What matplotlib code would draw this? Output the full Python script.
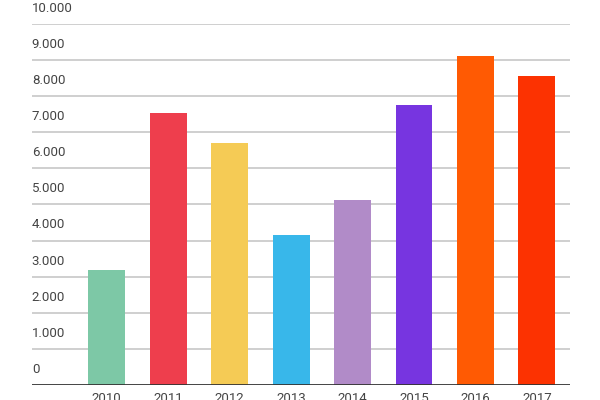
import matplotlib
matplotlib.use("Agg")
from matplotlib import pyplot as plt

# data
years = ["2010", "2011", "2012", "2013", "2014", "2015", "2016", "2017"]
values = [3180, 7520, 6690, 4150, 5120, 7740, 9120, 8550]
colors = ["#7dc8a6", "#ee3e4d", "#f5cb55", "#38b7ea", "#b18bc8", "#7735e0", "#ff5a03", "#fc3201"]
yticks = [0, 1000, 2000, 3000, 4000, 5000, 6000, 7000, 8000, 9000, 10000]
ytick_labels = ["0", "1.000", "2.000", "3.000", "4.000", "5.000", "6.000", "7.000", "8.000", "9.000", "10.000"]

plt.rcParams["font.family"] = ["Roboto", "DejaVu Sans"]

fig = plt.figure(figsize=(6, 4), dpi=100)
ax = fig.add_axes([0.053, 0.0375, 0.897, 0.903])

x = list(range(len(years)))
ax.bar(x, values, width=0.6, color=colors, zorder=3)

ax.set_xlim(-1.22, 7.54)
ax.set_ylim(0, 10000)

# gridlines with labels sitting above them on the left
for v, lab in zip(yticks, ytick_labels):
    if v > 0:
        ax.axhline(v, color="#cccccc", lw=1.3, zorder=1)
    ax.text(0.0, v + 250, lab, transform=ax.get_yaxis_transform(),
            ha="left", va="bottom", fontsize=9.5, color="#444444")
ax.axhline(0, color="#333333", lw=2, zorder=4)

ax.set_yticks([])
ax.set_xticks(x)
ax.set_xticklabels(years, fontsize=9.5, color="#444444")
ax.tick_params(axis="x", length=0, pad=5)
for s in ax.spines.values():
    s.set_visible(False)

fig.savefig("out.png", dpi=100)
